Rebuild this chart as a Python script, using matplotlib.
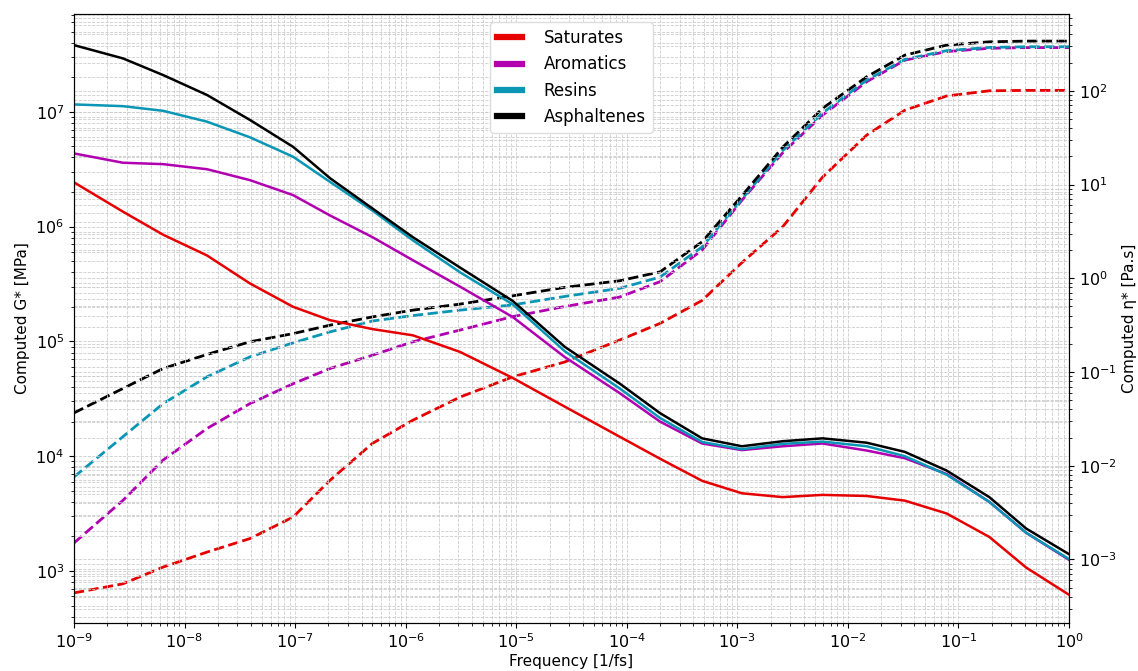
import matplotlib
matplotlib.use("Agg")
import matplotlib.pyplot as plt
from matplotlib.lines import Line2D

freq = [1e-9, 2.77e-9, 6.4e-9, 1.6e-8, 3.9e-8, 9.6e-8, 2.07e-7, 5.0e-7, 1.16e-6, 3.1e-6,
        9.3e-6, 2.75e-5, 8.6e-5, 2.0e-4, 4.8e-4, 1.1e-3, 2.57e-3, 5.9e-3, 1.48e-2, 3.27e-2,
        7.8e-2, 0.19, 0.41, 1.0]

# complex modulus G* [MPa] (left axis, solid)
g_sat = [2.43e6, 1.35e6, 8.5e5, 5.6e5, 3.2e5, 2.0e5, 1.53e5, 1.28e5, 1.13e5, 8.1e4,
         4.8e4, 2.7e4, 1.48e4, 9.5e3, 6.1e3, 4.75e3, 4.4e3, 4.6e3, 4.5e3, 4.1e3,
         3.17e3, 1.98e3, 1.07e3, 6.2e2]
g_aro = [4.34e6, 3.6e6, 3.5e6, 3.16e6, 2.54e6, 1.88e6, 1.25e6, 8.1e5, 5.1e5, 3.0e5,
         1.63e5, 7.3e4, 3.55e4, 2.0e4, 1.29e4, 1.13e4, 1.22e4, 1.29e4, 1.12e4, 9.6e3,
         7.0e3, 4.0e3, 2.15e3, 1.25e3]
g_res = [1.16e7, 1.12e7, 1.02e7, 8.2e6, 6.0e6, 4.06e6, 2.45e6, 1.38e6, 7.6e5, 4.0e5,
         2.1e5, 8.2e4, 3.9e4, 2.15e4, 1.33e4, 1.15e4, 1.28e4, 1.34e4, 1.22e4, 1.0e4,
         6.9e3, 4.0e3, 2.15e3, 1.27e3]
g_asp = [3.81e7, 2.92e7, 2.09e7, 1.4e7, 8.5e6, 4.95e6, 2.64e6, 1.44e6, 8.1e5, 4.4e5,
         2.25e5, 8.96e4, 4.3e4, 2.37e4, 1.43e4, 1.22e4, 1.35e4, 1.43e4, 1.31e4, 1.09e4,
         7.5e3, 4.4e3, 2.34e3, 1.4e3]

# complex viscosity eta* [Pa.s] (right axis, dashed)
eta_sat = [4.4e-4, 5.5e-4, 8.3e-4, 1.2e-3, 1.67e-3, 2.84e-3, 7.0e-3, 1.73e-2, 3.06e-2, 5.4e-2,
           8.87e-2, 0.128, 0.219, 0.33, 0.58, 1.47, 3.54, 12, 33.7, 62,
           88, 100, 101, 101]
eta_aro = [1.5e-3, 4.27e-3, 1.15e-2, 2.5e-2, 4.6e-2, 7.5e-2, 0.109, 0.151, 0.21, 0.28,
           0.39, 0.50, 0.63, 0.92, 2.0, 6.8, 21.8, 55, 125, 212,
           262, 284, 289, 289]
eta_res = [7.6e-3, 2.04e-2, 4.6e-2, 8.9e-2, 0.145, 0.205, 0.268, 0.35, 0.40, 0.457,
           0.52, 0.64, 0.78, 1.03, 2.16, 7.0, 23, 58, 130, 216,
           268, 290, 295, 295]
eta_asp = [3.66e-2, 6.67e-2, 0.109, 0.154, 0.21, 0.257, 0.316, 0.387, 0.457, 0.53,
           0.65, 0.80, 0.94, 1.17, 2.45, 7.6, 25, 65, 141, 240,
           307, 333, 339, 339]

names = ['Saturates', 'Aromatics', 'Resins', 'Asphaltenes']
colors = ['#e60000', '#b000b0', '#0a96b4', 'black']
g_all = [g_sat, g_aro, g_res, g_asp]
eta_all = [eta_sat, eta_aro, eta_res, eta_asp]

fig, ax1 = plt.subplots(figsize=(11.38, 6.71), dpi=100)
fig.subplots_adjust(left=0.065, right=0.9394, top=0.979, bottom=0.0715)
ax2 = ax1.twinx()

# draw the twin axis underneath so its grid stays behind the solid lines
ax1.set_zorder(ax2.get_zorder() + 1)
ax1.patch.set_visible(False)

for g, c in zip(g_all, colors):
    ax1.plot(freq, g, '-', color=c, lw=1.8)
for eta, c in zip(eta_all, colors):
    ax2.plot(freq, eta, '--', color=c, lw=2.0)

ax1.set_xscale('log')
ax1.set_yscale('log')
ax2.set_yscale('log')
ax1.set_xlim(1e-9, 1)
ax1.set_ylim(352, 7.1e7)
ax2.set_ylim(2.1e-4, 658)

ax1.grid(True, which='both', ls='--', color='#cccccc', lw=0.6)
ax2.grid(True, which='both', axis='y', ls='--', color='#cccccc', lw=0.6)
ax1.set_axisbelow(True)
ax2.set_axisbelow(True)

ax1.set_xlabel('Frequency [1/fs]', fontsize=11, labelpad=2)
ax1.set_ylabel('Computed G* [MPa]', fontsize=11)
ax2.set_ylabel('Computed η* [Pa.s]', fontsize=11)
ax1.tick_params(labelsize=11.5)
ax2.tick_params(labelsize=11.5)

handles = [Line2D([0], [0], color=c, lw=4.5) for c in colors]
leg = ax1.legend(handles, names, loc='upper center', fontsize=12, handlelength=1.5,
                 handletextpad=1.3, framealpha=1.0)
leg.get_frame().set_edgecolor('#dddddd')

plt.savefig('out.png')
